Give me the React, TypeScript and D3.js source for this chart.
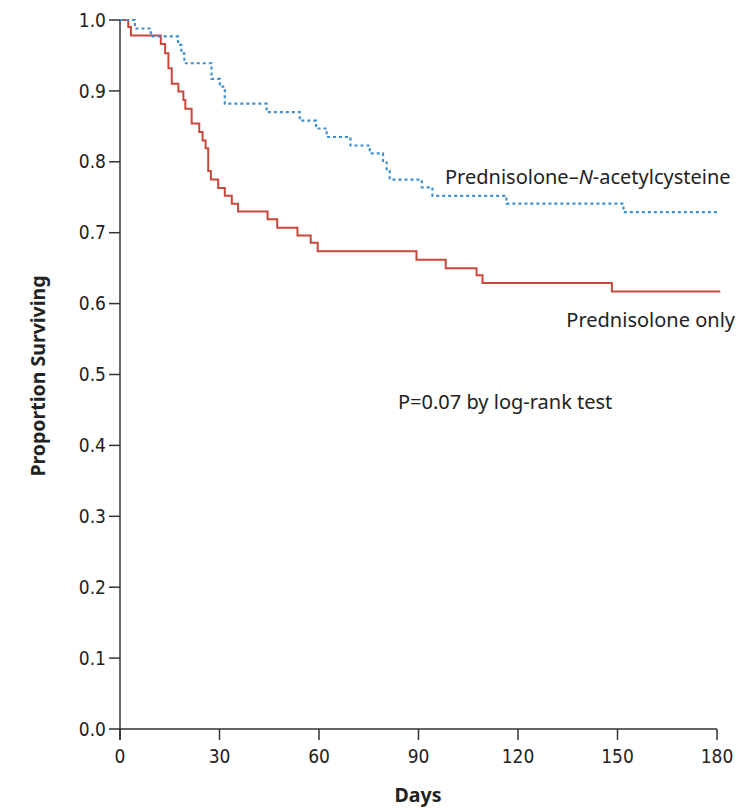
import React from 'react';
import * as d3 from 'd3';

// Kaplan-Meier steps: [day, proportion surviving after the event]
const nacDays = [0, 4.5, 9.3, 17.5, 18.5, 19.4, 27.6, 30.1, 31.6, 44.2, 54.2, 59.1, 62.3, 69.5, 75.3, 79.3, 80.4, 81.3, 91.0, 94.2, 116.5, 151.8, 180.3];
const nacSurv = [1.0, 0.988, 0.977, 0.965, 0.953, 0.939, 0.917, 0.906, 0.882, 0.870, 0.858, 0.847, 0.835, 0.823, 0.812, 0.799, 0.787, 0.775, 0.764, 0.752, 0.741, 0.729, 0.729];

const predDays = [0, 2.5, 3.3, 12.3, 13.6, 14.6, 15.6, 17.6, 19.1, 19.7, 21.6, 23.9, 24.9, 25.8, 26.6, 27.4, 29.6, 31.6, 33.7, 35.6, 44.5, 47.4, 53.5, 57.5, 59.6, 89.4, 98.2, 107.5, 109.3, 148.3, 181];
const predSurv = [1.0, 0.990, 0.978, 0.966, 0.953, 0.932, 0.910, 0.899, 0.887, 0.875, 0.854, 0.842, 0.830, 0.819, 0.787, 0.775, 0.763, 0.752, 0.741, 0.730, 0.719, 0.707, 0.696, 0.686, 0.674, 0.662, 0.650, 0.640, 0.629, 0.617, 0.617];

const xTicks = [0, 30, 60, 90, 120, 150, 180];
const yTicks = [0, 0.1, 0.2, 0.3, 0.4, 0.5, 0.6, 0.7, 0.8, 0.9, 1.0];

const W = 741;
const H = 808;
const labelFont = "'Noto Sans', 'DejaVu Sans', sans-serif";
const tickFont = "'Liberation Sans Narrow', 'DejaVu Sans Condensed', 'Noto Sans', sans-serif";

const x = d3.scaleLinear().domain([0, 180]).range([120, 717]);
const y = d3.scaleLinear().domain([0, 1]).range([729, 20]);

const stepLine = d3.line<[number, number]>()
  .x(d => x(d[0]))
  .y(d => y(d[1]))
  .curve(d3.curveStepAfter);

export default function App() {
  const nacPts = nacDays.map((d, i) => [d, nacSurv[i]] as [number, number]);
  const predPts = predDays.map((d, i) => [d, predSurv[i]] as [number, number]);
  const axisColor = '#333';

  return (
    <div>
      <style>{'body{margin:0}'}</style>
      <svg width={W} height={H} style={{ display: 'block', background: '#fff' }}>
        {/* y axis */}
        <line x1={x(0)} x2={x(0)} y1={y(1)} y2={y(0) + 11} stroke={axisColor} strokeWidth={1.5} />
        {yTicks.map(t => (
          <g key={'y' + t}>
            <line x1={x(0) - 11} x2={x(0)} y1={y(t)} y2={y(t)} stroke={axisColor} strokeWidth={1.5} />
            <text x={x(0) - 14} y={y(t)} dy="0.35em" textAnchor="end" fontFamily={tickFont} fontSize={19} fill="#222">
              {t.toFixed(1)}
            </text>
          </g>
        ))}
        {/* x axis */}
        <line x1={x(0)} x2={x(180)} y1={y(0)} y2={y(0)} stroke={axisColor} strokeWidth={1.5} />
        {xTicks.map(t => (
          <g key={'x' + t}>
            <line x1={x(t)} x2={x(t)} y1={y(0)} y2={y(0) + 11} stroke={axisColor} strokeWidth={1.5} />
            <text x={x(t)} y={y(0) + 27} dy="0.35em" textAnchor="middle" fontFamily={tickFont} fontSize={19} fill="#222">
              {t}
            </text>
          </g>
        ))}

        {/* curves */}
        <path d={stepLine(predPts) || ''} fill="none" stroke="#c9483b" strokeWidth={2} />
        <path d={stepLine(nacPts) || ''} fill="none" stroke="#3d8fd1" strokeWidth={2.2} strokeDasharray="3,3" />

        {/* annotations */}
        <text x={445} y={177} dy="0.35em" fontFamily={labelFont} fontSize={20} fill="#222">
          Prednisolone–<tspan fontStyle="italic">N</tspan>-acetylcysteine
        </text>
        <text x={735} y={320} dy="0.35em" textAnchor="end" fontFamily={labelFont} fontSize={20} fill="#222">
          Prednisolone only
        </text>
        <text x={398} y={402} dy="0.35em" fontFamily={labelFont} fontSize={20} fill="#222">
          P=0.07 by log-rank test
        </text>

        {/* axis titles */}
        <text transform="translate(38,376) rotate(-90)" dy="0.35em" textAnchor="middle"
          fontFamily={labelFont} fontSize={19.5} fontWeight="bold" fill="#222">
          Proportion Surviving
        </text>
        <text x={418} y={795} dy="0.35em" textAnchor="middle" fontFamily={labelFont} fontSize={19.5} fontWeight="bold" fill="#222">
          Days
        </text>
      </svg>
    </div>
  );
}
